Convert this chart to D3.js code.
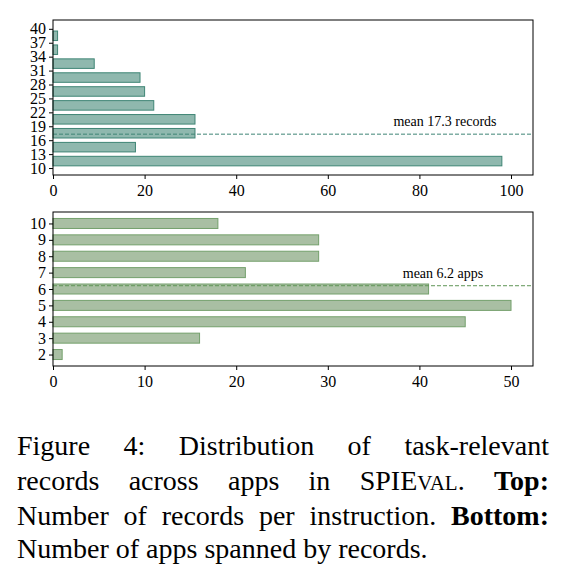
<!DOCTYPE html><html><head><meta charset="utf-8">
<script src="https://cdn.jsdelivr.net/npm/d3@7"></script>
<style>body{margin:0;background:#fff}text{font-family:"Liberation Serif","DejaVu Serif",serif}</style>
</head><body><svg id="c" width="566" height="580"></svg>
<script>
const binStarts=[10,13,16,19,22,25,28,31,34,37];
const recordCounts=[98,18,31,31,22,20,19,9,1,1];
const recordTicks=[10,13,16,19,22,25,28,31,34,37,40];
const meanRecords=17.3;
const appCats=[2,3,4,5,6,7,8,9,10];
const appCounts=[1,16,45,50,41,21,29,29,18];
const meanApps=6.2;
const svg=d3.select("#c");
const L=53,R=533;
const tf=16;
// top
const x1=d3.scaleLinear().domain([0,104.8]).range([L,R]);
const y1=d3.scaleLinear().domain([8.5,41.9]).range([175,20]);
const g1=svg.append("g");
g1.selectAll("rect").data(binStarts).enter().append("rect")
 .attr("x",x1(0)).attr("y",(d)=>y1(d+3)+2.2).attr("height",(d)=>y1(d)-y1(d+3)-4.4)
 .attr("width",(d,i)=>x1(recordCounts[i])-x1(0)).attr("fill","#8fb8ae").attr("stroke","#3f8575").attr("stroke-width",1);
g1.append("line").attr("x1",L).attr("x2",R).attr("y1",y1(meanRecords)).attr("y2",y1(meanRecords)).attr("stroke","#3f8575").attr("stroke-dasharray","4,2");
g1.append("text").attr("x",445).attr("y",y1(meanRecords)-8).attr("text-anchor","middle").attr("font-size",14).text(`mean ${meanRecords} records`);
g1.append("rect").attr("x",L).attr("y",20).attr("width",R-L).attr("height",155).attr("fill","none").attr("stroke","#000");
g1.append("g").attr("transform","translate(0,175)").call(d3.axisBottom(x1).tickValues([0,20,40,60,80,100]).tickSize(4)).call(a=>{a.select(".domain").remove();a.selectAll("text").attr("font-size",tf).attr("fill","#000").attr("dy","0.9em")});
g1.append("g").attr("transform",`translate(${L},0)`).call(d3.axisLeft(y1).tickValues(recordTicks).tickSize(4)).call(a=>{a.select(".domain").remove();a.selectAll("text").attr("font-size",tf).attr("fill","#000")});
// bottom
const x2=d3.scaleLinear().domain([0,52.4]).range([L,R]);
const y2=d3.scaleLinear().domain([1.3,10.7]).range([366,212]);
const g2=svg.append("g");
g2.selectAll("rect").data(appCats).enter().append("rect")
 .attr("x",x2(0)).attr("y",d=>y2(d)-5).attr("height",10)
 .attr("width",(d,i)=>x2(appCounts[i])-x2(0)).attr("fill","#a9bfa3").attr("stroke","#74a06c").attr("stroke-width",1);
g2.append("line").attr("x1",L).attr("x2",R).attr("y1",y2(meanApps)).attr("y2",y2(meanApps)).attr("stroke","#5f9556").attr("stroke-dasharray","4,2");
g2.append("text").attr("x",443).attr("y",y2(meanApps)-8).attr("text-anchor","middle").attr("font-size",14).text(`mean ${meanApps} apps`);
g2.append("rect").attr("x",L).attr("y",212).attr("width",R-L).attr("height",154).attr("fill","none").attr("stroke","#000");
g2.append("g").attr("transform","translate(0,366)").call(d3.axisBottom(x2).tickValues([0,10,20,30,40,50]).tickSize(4)).call(a=>{a.select(".domain").remove();a.selectAll("text").attr("font-size",tf).attr("fill","#000").attr("dy","0.9em")});
g2.append("g").attr("transform",`translate(${L},0)`).call(d3.axisLeft(y2).tickValues(appCats).tickSize(4)).call(a=>{a.select(".domain").remove();a.selectAll("text").attr("font-size",tf).attr("fill","#000")});
// caption: words justified between 17 and 549
const cap=svg.append("g").attr("font-size",28);
function line(y,words,just){
  const nodes=words.map(w=>{const t=cap.append("text").attr("y",y);w.forEach(p=>{const s=t.append("tspan").text(p[0]);if(p[1])s.attr("font-weight","bold");if(p[2])s.attr("font-size",p[2]);});return t;});
  const ws=nodes.map(n=>n.node().getComputedTextLength());
  const tot=d3.sum(ws);
  const gap=just?(532-tot)/(nodes.length-1):7;
  let x=17;nodes.forEach((n,i)=>{n.attr("x",x);x+=ws[i]+gap;});
}
line(455,[[["Figure"]],[["4:"]],[["Distribution"]],[["of"]],[["task-relevant"]]],true);
line(490,[[["records"]],[["across"]],[["apps"]],[["in"]],[["SPIE"],["VAL",false,21],["."]],[["Top:",true]]],true);
line(525,[[["Number"]],[["of"]],[["records"]],[["per"]],[["instruction."]],[["Bottom:",true]]],true);
line(558,[[["Number"]],[["of"]],[["apps"]],[["spanned"]],[["by"]],[["records."]]],false);
</script></body></html>
